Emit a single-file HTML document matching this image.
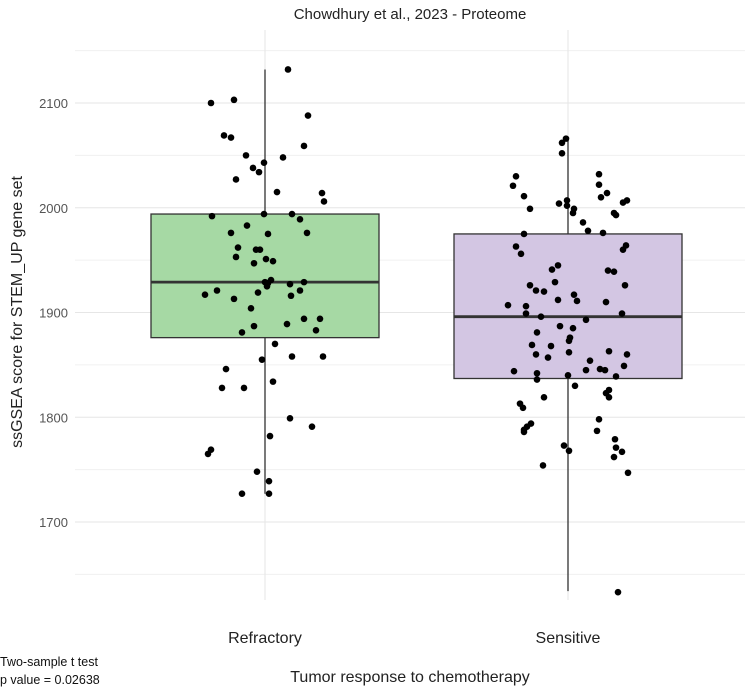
<!DOCTYPE html>
<html><head><meta charset="utf-8"><style>
body{margin:0;background:#fff;}
svg{display:block;font-family:"Liberation Sans",Arial,sans-serif;}
</style></head><body>
<svg id="chart" width="750" height="689">
<text x="410" y="19" text-anchor="middle" font-size="15" fill="#222">Chowdhury et al., 2023 - Proteome</text>
<g id="grid"></g><g id="boxes"></g><g id="points"></g><g id="axes"></g>
<text transform="translate(22,312) rotate(-90)" text-anchor="middle" font-size="16" fill="#222">ssGSEA score for STEM_UP gene set</text>
<text x="410" y="682" text-anchor="middle" font-size="16" fill="#222">Tumor response to chemotherapy</text>
<text x="0" y="666" font-size="12.5" fill="#111">Two-sample t test</text>
<text x="0" y="684" font-size="12.5" fill="#111">p value = 0.02638</text>
</svg>
<script>
const categories=["Refractory","Sensitive"];
const yTicks=[1700,1800,1900,2000,2100];
const yMinor=[1650,1750,1850,1950,2050,2150];
const q1=[1876,1837], med=[1929,1896], q3=[1994,1975], wLo=[1727,1634], wHi=[2132,2066];
const refValues=[2132,2100,2103,2088,2069,2067,2059,2050,2048,2043,2038,2034,2027,2015,2014,2006,1992,1994,1994,1989,1983,1976,1975,1976,1962,1960,1960,1953,1951,1949,1947,1929,1931,1925,1928,1927,1929,1917,1921,1919,1916,1921,1913,1904,1887,1889,1894,1894,1881,1883,1870,1855,1858,1858,1846,1828,1828,1834,1799,1791,1782,1769,1765,1748,1739,1727,1727];
const refJitter=[23,-54,-31,43,-41,-34,39,-19,18,-1,-12,-6,-29,12,57,59,-53,-1,27,35,-18,-34,3,42,-27,-9,-5,-29,1,8,-11,0,6,2,3,25,39,-60,-48,-7,26,35,-31,-14,-11,22,39,55,-23,51,10,-3,27,58,-39,-43,-21,8,25,47,5,-54,-57,-8,4,-23,4];
const senValues=[2066,2062,2052,2030,2021,2032,2022,2014,2010,2011,1999,2004,2007,2002,1999,1995,2005,2007,1995,1993,1986,1978,1976,1975,1963,1956,1964,1960,1945,1941,1940,1939,1929,1926,1921,1920,1926,1917,1911,1912,1910,1907,1906,1899,1896,1899,1893,1887,1885,1881,1876,1873,1869,1868,1862,1860,1857,1863,1860,1854,1845,1846,1845,1849,1844,1842,1836,1840,1839,1830,1826,1823,1819,1819,1813,1809,1798,1787,1794,1791,1788,1786,1773,1768,1779,1771,1767,1762,1754,1747,1633];
const senJitter=[-2,-6,-6,-52,-55,31,31,39,33,-44,-38,-9,-1,-1,6,5,55,59,46,48,15,20,35,-44,-52,-47,58,55,-10,-16,40,46,-13,-38,-32,-24,57,6,9,-10,38,-60,-42,-42,-27,54,18,-8,5,-31,2,1,-36,-17,1,-32,-20,41,59,22,18,32,37,56,-54,-31,-31,0,48,7,41,38,41,-24,-48,-45,31,29,-37,-41,-44,-44,-4,1,47,48,54,46,-25,60,50];
const allPts=[[refValues,refJitter],[senValues,senJitter]];
const NS="http://www.w3.org/2000/svg";
const centers=[265,568], halfW=114;
function y(v){return 103+(2100-v)*1.0475;}
function xc(i){return centers[i];}
function mk(tag,attrs,parent){const e=document.createElementNS(NS,tag);for(const k in attrs)e.setAttribute(k,attrs[k]);document.getElementById(parent).appendChild(e);return e;}
yMinor.forEach(v=>{const l=mk('line',{x1:75,x2:745,y1:y(v),y2:y(v),stroke:'#f0f0f0','stroke-width':1},'grid');

});
yTicks.forEach(v=>{const l=mk('line',{x1:75,x2:745,y1:y(v),y2:y(v),stroke:'#e6e6e6','stroke-width':1.1},'grid');


const t=mk('text',{x:68,y:y(v)+5,'text-anchor':'end','font-size':13,fill:'#555'},'axes');t.textContent=v;

});
categories.forEach((c,i)=>{
const g=mk('line',{x1:xc(i),x2:xc(i),y1:30,y2:600,stroke:'#e6e6e6','stroke-width':1.1},'grid');


const fill=i==0?'#a6d9a4':'#d3c6e3';
const w=mk('line',{x1:xc(i),x2:xc(i),y1:y(wHi[i]),y2:y(wLo[i]),stroke:'#333','stroke-width':1.3},'boxes');


const b=mk('rect',{x:xc(i)-halfW,y:y(q3[i]),width:2*halfW,height:y(q1[i])-y(q3[i]),fill:fill,stroke:'#333','stroke-width':1.3},'boxes');


const m=mk('line',{x1:xc(i)-halfW,x2:xc(i)+halfW,y1:y(med[i]),y2:y(med[i]),stroke:'#333','stroke-width':2.8},'boxes');


const t=mk('text',{x:xc(i),y:643,'text-anchor':'middle','font-size':16,fill:'#222'},'axes');t.textContent=c;


const [vals,jit]=allPts[i];
vals.forEach((v,k)=>{const p=mk('circle',{cx:xc(i)+jit[k],cy:y(v),r:3.3,fill:'#000'},'points');

});
});
</script>
</body></html>
